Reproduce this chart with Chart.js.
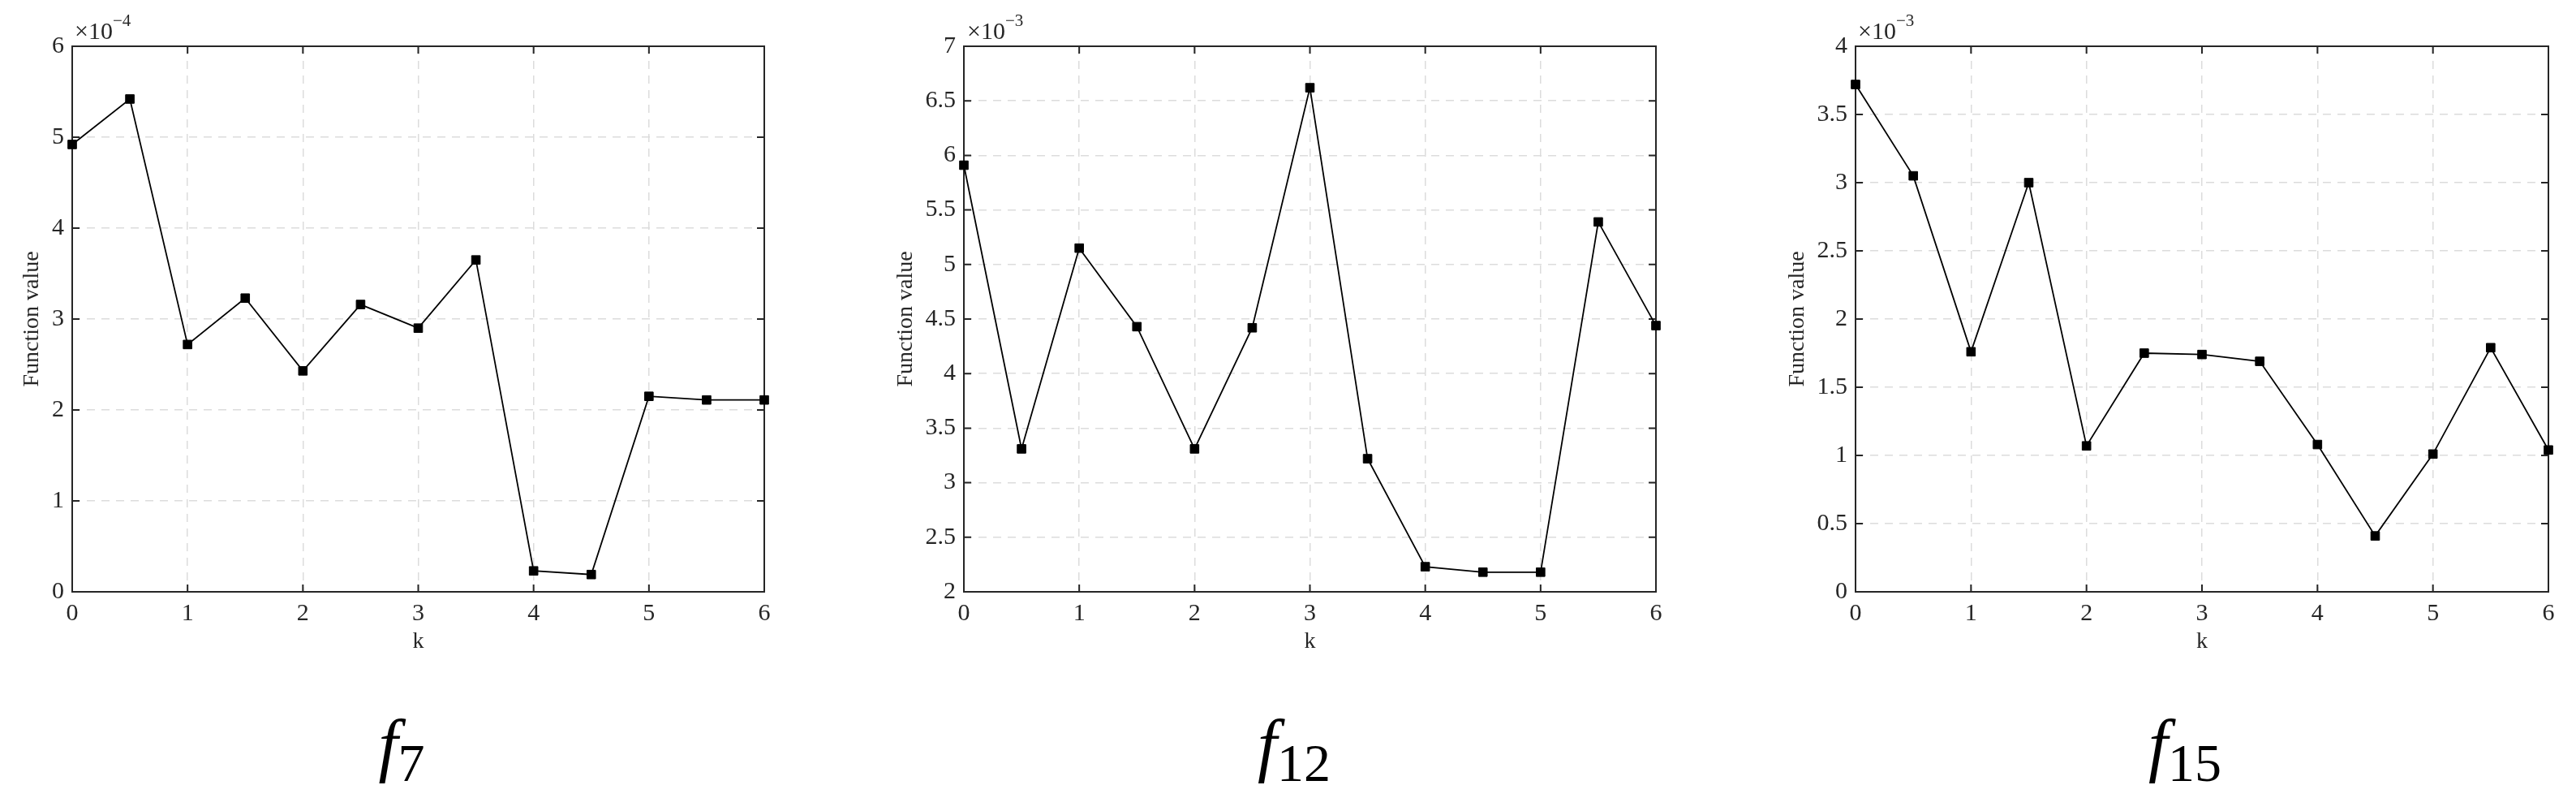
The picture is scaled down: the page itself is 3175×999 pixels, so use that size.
<!DOCTYPE html>
<html>
<head>
<meta charset="utf-8">
<script src="https://cdn.jsdelivr.net/npm/chart.js@4/dist/chart.umd.min.js"></script>
<style>
  body { margin: 0; background: #fff; width: 3175px; height: 999px; position: relative; overflow: hidden; font-family: "Liberation Serif", serif; color: #262626; }
  .panel { position: absolute; top: 0; }
  .exp { position: absolute; top: 20px; font-size: 30px; line-height: 1; white-space: nowrap; }
  .exp sup { font-size: 21px; position: relative; top: -5px; }
  .cap { position: absolute; top: 874px; font-size: 86px; line-height: 1; font-style: italic; color: #000; transform: translateX(-50%); white-space: nowrap; }
  .cap sub { font-style: normal; font-size: 66px; vertical-align: -16px; }
</style>
</head>
<body>
<div class="panel" id="p7"><canvas id="c7"></canvas></div>
<div class="panel" id="p12"><canvas id="c12"></canvas></div>
<div class="panel" id="p15"><canvas id="c15"></canvas></div>
<div class="exp" style="left:92px">×10<sup>−4</sup></div>
<div class="exp" style="left:1192px">×10<sup>−3</sup></div>
<div class="exp" style="left:2290px">×10<sup>−3</sup></div>
<div class="cap" style="left:495px">f<sub>7</sub></div>
<div class="cap" style="left:1595px">f<sub>12</sub></div>
<div class="cap" style="left:2693px">f<sub>15</sub></div>
<script>
const kValues = [0, 0.5, 1, 1.5, 2, 2.5, 3, 3.5, 4, 4.5, 5, 5.5, 6]
const xTicks = [0, 1, 2, 3, 4, 5, 6]

// values shown in units of 1e-4 (f7) and 1e-3 (f12, f15)
const f7Values = [4.92, 5.42, 2.72, 3.23, 2.43, 3.16, 2.9, 3.65, 0.23, 0.19, 2.15, 2.11, 2.11]
const f12Values = [5.91, 3.31, 5.15, 4.43, 3.31, 4.42, 6.62, 3.22, 2.23, 2.18, 2.18, 5.39, 4.44]
const f15Values = [3.72, 3.05, 1.76, 3.0, 1.07, 1.75, 1.74, 1.69, 1.08, 0.41, 1.01, 1.79, 1.04]

const f7Ticks = [0, 1, 2, 3, 4, 5, 6]
const f12Ticks = [2, 2.5, 3, 3.5, 4, 4.5, 5, 5.5, 6, 6.5, 7]
const f15Ticks = [0, 0.5, 1, 1.5, 2, 2.5, 3, 3.5, 4]

Chart.defaults.font.family = '"Liberation Serif", serif'
Chart.defaults.color = '#262626'

const boxPlugin = {
  id: 'box',
  beforeDatasetsDraw(chart) {
    const { ctx, chartArea: a, scales } = chart
    ctx.save()
    ctx.strokeStyle = '#262626'
    ctx.lineWidth = 2
    ctx.beginPath()
    scales.x.ticks.forEach((t) => {
      const px = scales.x.getPixelForValue(t.value)
      ctx.moveTo(px, a.bottom)
      ctx.lineTo(px, a.bottom - 9)
      ctx.moveTo(px, a.top)
      ctx.lineTo(px, a.top + 9)
    })
    scales.y.ticks.forEach((t) => {
      const py = scales.y.getPixelForValue(t.value)
      ctx.moveTo(a.left, py)
      ctx.lineTo(a.left + 9, py)
      ctx.moveTo(a.right, py)
      ctx.lineTo(a.right - 9, py)
    })
    ctx.stroke()
    ctx.strokeRect(a.left, a.top, a.right - a.left, a.bottom - a.top)
    ctx.restore()
  },
}

const AXIS_W = 100
const AXIS_H = 90

function addPanel(id, plotLeft, plotRight, values, yTicks, titlePad) {
  const panel = document.getElementById('p' + id)
  const left = plotLeft - AXIS_W
  const width = plotRight - left + 20
  panel.style.left = left + 'px'
  panel.style.width = width + 'px'
  panel.style.height = (729 + AXIS_H) + 'px'

  new Chart(document.getElementById('c' + id), {
    type: 'line',
    data: {
      datasets: [
        {
          data: kValues.map((k, i) => ({ x: k, y: values[i] })),
          borderColor: '#000',
          borderWidth: 1.8,
          pointStyle: 'rect',
          pointRadius: 7.5,
          pointBorderWidth: 1,
          pointBackgroundColor: '#000',
          pointBorderColor: '#000',
          clip: false,
        },
      ],
    },
    options: {
      responsive: true,
      maintainAspectRatio: false,
      animation: false,
      layout: { padding: { top: 57, right: 20, bottom: 0, left: 0 } },
      plugins: { legend: { display: false }, tooltip: { enabled: false } },
      scales: {
        x: {
          type: 'linear',
          min: 0,
          max: 6,
          afterBuildTicks: (s) => { s.ticks = xTicks.map((v) => ({ value: v })) },
          afterFit: (s) => { s.height = AXIS_H },
          grid: { color: '#dcdcdc', lineWidth: 1.5, drawTicks: false },
          border: { display: false, dash: [10, 8] },
          ticks: { font: { size: 30 }, padding: 9, maxRotation: 0, callback: (v) => String(v) },
          title: { display: true, text: 'k', font: { size: 28 }, padding: { top: 0, bottom: 12 } },
        },
        y: {
          type: 'linear',
          min: yTicks[0],
          max: yTicks[yTicks.length - 1],
          afterBuildTicks: (s) => { s.ticks = yTicks.map((v) => ({ value: v })) },
          afterFit: (s) => { s.width = AXIS_W },
          grid: { color: '#dcdcdc', lineWidth: 1.5, drawTicks: false },
          border: { display: false, dash: [10, 8] },
          ticks: { font: { size: 30 }, padding: 10, callback: (v) => String(v) },
          title: { display: true, text: 'Function value', font: { size: 28 }, padding: { top: titlePad, bottom: 0 } },
        },
      },
    },
    plugins: [boxPlugin],
  })
}

addPanel('7', 89, 942, f7Values, f7Ticks, 34)
addPanel('12', 1188, 2041, f12Values, f12Ticks, 12)
addPanel('15', 2287, 3141, f15Values, f15Ticks, 12)
</script>
</body>
</html>
